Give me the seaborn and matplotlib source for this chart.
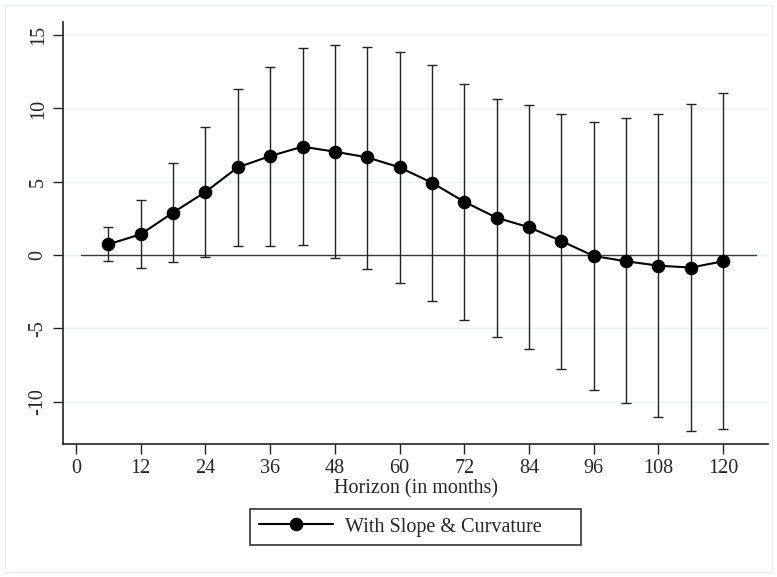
import numpy as np
import pandas as pd
import matplotlib
matplotlib.use("Agg")
import matplotlib.pyplot as plt
import seaborn as sns

# horizon (months) and impulse response with confidence band
horizon = [6, 12, 18, 24, 30, 36, 42, 48, 54, 60, 66, 72, 78, 84, 90, 96, 102, 108, 114, 120]
estimate = [0.73, 1.41, 2.89, 4.30, 5.98, 6.75, 7.39, 7.05, 6.66, 5.98,
            4.93, 3.63, 2.54, 1.89, 0.95, -0.07, -0.43, -0.73, -0.86, -0.43]
upper = [1.93, 3.75, 6.25, 8.75, 11.34, 12.86, 14.12, 14.36, 14.20, 13.86,
         12.95, 11.66, 10.66, 10.25, 9.63, 9.07, 9.32, 9.63, 10.27, 11.04]
lower = [-0.41, -0.91, -0.50, -0.11, 0.61, 0.64, 0.68, -0.23, -0.93, -1.93,
         -3.11, -4.43, -5.57, -6.45, -7.77, -9.20, -10.11, -11.07, -12.04, -11.86]
xticks = [0, 12, 24, 36, 48, 60, 72, 84, 96, 108, 120]
yticks = [-10, -5, 0, 5, 10, 15]

df = pd.DataFrame({"horizon": horizon, "irf": estimate, "hi": upper, "lo": lower})

sns.set_style("white")
plt.rcParams["font.family"] = ["Liberation Serif", "DejaVu Serif"]

fig = plt.figure(figsize=(7.77, 5.77), dpi=100)
ax = fig.add_axes([0.0811, 0.2305, 0.9073, 0.7314])

# light grid lines like stata
for yt in yticks:
    ax.axhline(yt, color="#e9f1f3", lw=1.0, zorder=0)

# zero line
ax.plot([1, 126], [0, 0], color="#3a3a3a", lw=1.0, zorder=1)

# confidence intervals
ax.errorbar(df["horizon"], df["irf"],
            yerr=[df["irf"] - df["lo"], df["hi"] - df["irf"]],
            fmt="none", ecolor="#222222", elinewidth=1.0, capsize=3.5, capthick=1.0, zorder=2)

sns.lineplot(data=df, x="horizon", y="irf", ax=ax, color="black", lw=1.5,
             marker="o", markersize=9, markeredgecolor="black",
             label="With Slope & Curvature", zorder=3)

ax.set_xlim(-2.4, 128.3)
ax.set_ylim(-12.9, 15.9)
ax.set_xticks(xticks)
ax.set_yticks(yticks)
ax.set_yticklabels([str(v) for v in yticks], rotation=90, va="center")
ax.tick_params(axis="both", direction="out", length=7, width=1, color="#222222",
               labelsize=14.5, pad=4, left=True, bottom=True)
ax.set_xlabel("Horizon (in months)", fontsize=14.5, labelpad=1)
ax.set_ylabel("")

sns.despine(ax=ax)
for s in ["left", "bottom"]:
    ax.spines[s].set_color("#222222")
    ax.spines[s].set_linewidth(1.2)

# legend below the plot, stata style box with extra room on the right
leg = ax.legend(loc="center", bbox_to_anchor=(0.5148, 0.0867), bbox_transform=fig.transFigure,
                frameon=False, fontsize=14.5, handlelength=3.68, handletextpad=0.6)
fig.patches.append(plt.Rectangle((0.3218, 0.0555), 0.426, 0.0624, transform=fig.transFigure,
                                 fill=False, edgecolor="#333333", lw=1.2))

# outer graph region border
fig.patches.append(plt.Rectangle((0.006, 0.008), 0.988, 0.984, transform=fig.transFigure,
                                 fill=False, edgecolor="#e6eef2", lw=1.0))

fig.savefig("out.png", dpi=100)
